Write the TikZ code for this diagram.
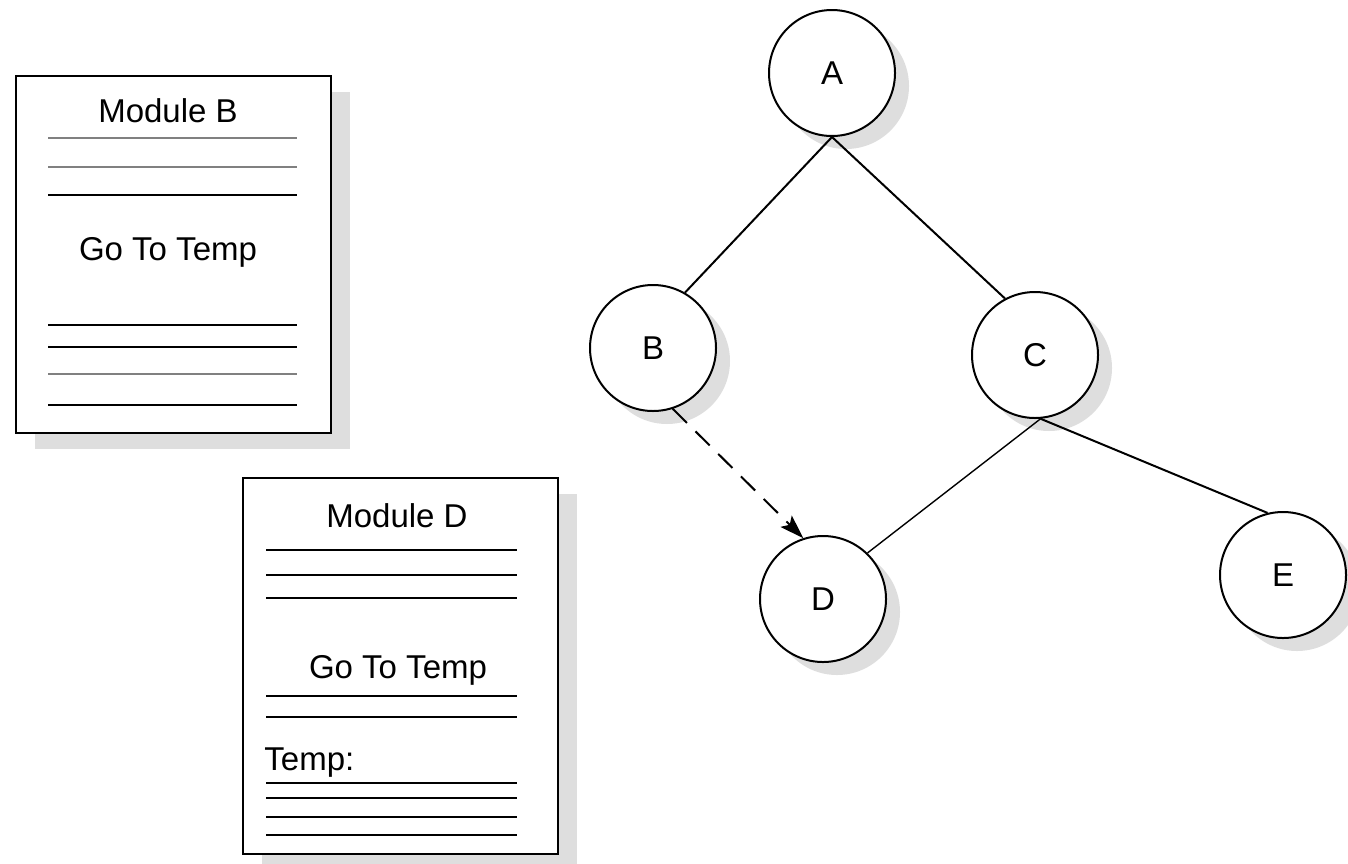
\documentclass[tikz,border=0pt]{standalone}
\usepackage{fontspec}
\setmainfont{Liberation Sans}
\usetikzlibrary{shadows,arrows.meta}
\begin{document}
\begin{tikzpicture}[x=0.5pt,y=-0.5pt,
  every node/.style={font=\fontsize{16.5}{19}\selectfont},
  page/.style={draw,line width=1.1pt,fill=white,inner sep=0,anchor=north west,
    drop shadow={shadow xshift=9.5pt,shadow yshift=-8pt,fill=black!13,opacity=1}},
  vert/.style={draw,circle,line width=1pt,fill=white,minimum size=63pt,inner sep=0,
    drop shadow={shadow xshift=7pt,shadow yshift=-6.5pt,fill=black!13,opacity=1}},
  txt/.style={anchor=base,inner sep=0},
  rule/.style={line width=1pt},
  grule/.style={line width=1pt,draw=black!50},
  edge/.style={line width=1pt}
]
\useasboundingbox (0,0) rectangle (1348,863);

% Module B page
\node[page,minimum width=157.5pt,minimum height=178.5pt] (pageB) at (15,75) {};
\node[txt] (titleB) at (168,122) {Module B};
\draw[grule] (48,138) -- (297,138);
\draw[grule] (48,167) -- (297,167);
\draw[rule] (48,195) -- (297,195);
\node[txt] (gotoB) at (168,260) {Go To Temp};
\draw[rule] (48,325) -- (297,325);
\draw[rule] (48,347) -- (297,347);
\draw[grule] (48,374) -- (297,374);
\draw[rule] (48,405) -- (297,405);

% Module D page
\node[page,minimum width=157.5pt,minimum height=188pt] (pageD) at (242,477) {};
\node[txt] (titleD) at (397,527) {Module D};
\draw[rule] (266,550) -- (517,550);
\draw[rule] (266,575) -- (517,575);
\draw[rule] (266,598) -- (517,598);
\node[txt] (gotoD) at (398,678) {Go To Temp};
\draw[rule] (266,696) -- (517,696);
\draw[rule] (266,717) -- (517,717);
\node[txt,anchor=base west] (temp) at (264,770) {Temp:};
\draw[rule] (266,783) -- (517,783);
\draw[rule] (266,798) -- (517,798);
\draw[rule] (266,817) -- (517,817);
\draw[rule] (266,835) -- (517,835);

% Tree
\node[vert] (A) at (832,73) {A};
\node[vert] (B) at (653,348) {B};
\node[vert] (C) at (1035,355) {C};
\node[vert] (D) at (823,599) {D};
\node[vert] (E) at (1283,575) {E};

\draw[edge] (A.south) -- (B.60);
\draw[edge] (A.south) -- (C.118);
\draw[edge,line width=0.7pt] (C.-85) -- (D.46);
\draw[edge] (C.-85) -- (E.104);
\draw[edge,dash pattern=on 10pt off 6pt,-{Stealth[length=12pt,width=8pt,inset=2.5pt]}] (B.-72) -- (D.108);
\end{tikzpicture}
\end{document}
